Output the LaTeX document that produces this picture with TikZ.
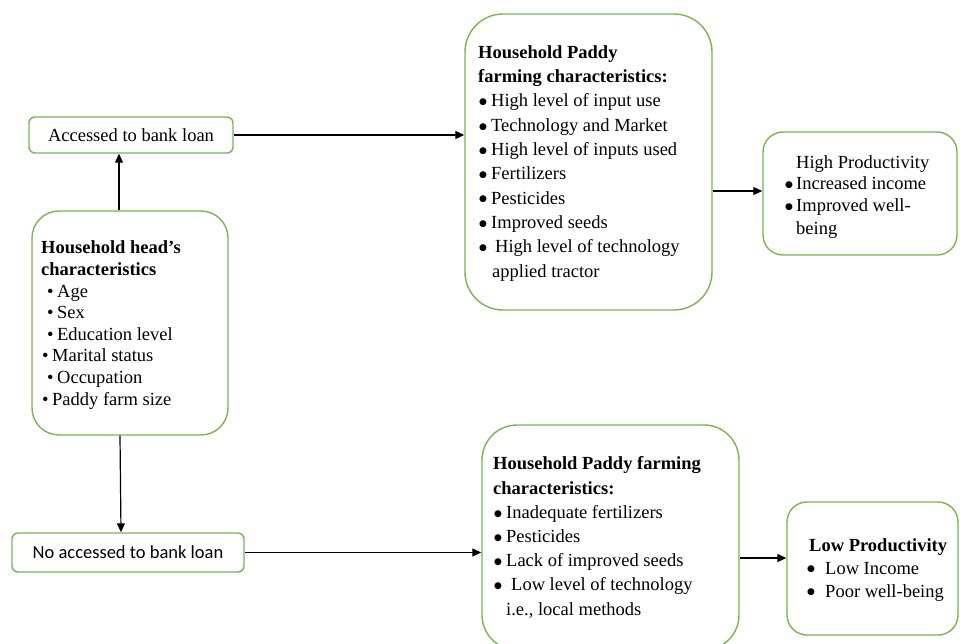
\documentclass[tikz,border=0pt]{standalone}
\usepackage{fontspec}
\setmainfont{Liberation Serif}
\newfontfamily\calib{Carlito}
\newfontfamily\dejavu{DejaVu Sans}
\usetikzlibrary{arrows.meta,calc}
\definecolor{boxgreen}{RGB}{122,180,84}
\newcommand\bul[1]{\makebox[#1][l]{•}}
\newcommand\bbul[1]{\makebox[#1][l]{\raisebox{2.2pt}{\dejavu\fontsize{9}{9}\selectfont ●}}}
\begin{document}
\begin{tikzpicture}[x=1pt,y=-1pt,
  gbox/.style={draw=boxgreen,line width=1.4pt,fill=white,inner sep=0pt,rectangle},
  txt/.style={anchor=base west,inner sep=0pt,align=left,text=black},
  arr/.style={draw=black,line width=1.2pt,-{Triangle[length=9pt,width=8pt]}},
  fnt/.style={font=\fontsize{18.5}{#1}\selectfont}]
\useasboundingbox (0,0) rectangle (960,644);
% boxes
\node[gbox,rounded corners=6pt,minimum width=204pt,minimum height=36pt,fnt=22] (acc) at (131,135) {Accessed to bank loan};
\node[gbox,rounded corners=27pt,minimum width=196pt,minimum height=224pt] (head) at (130,323) {};
\node[gbox,rounded corners=38pt,minimum width=247pt,minimum height=296pt] (tp) at (588.5,162) {};
\node[gbox,rounded corners=20pt,minimum width=194pt,minimum height=123pt] (hp) at (860,193.5) {};
\node[gbox,rounded corners=6pt,minimum width=232pt,minimum height=39pt,font=\calib\fontsize{18.5}{22}\selectfont] (noacc) at (128,552.5) {No accessed to bank loan};
\node[gbox,rounded corners=35pt,minimum width=257pt,minimum height=225pt] (bp) at (610.5,537.5) {};
\node[gbox,rounded corners=20pt,minimum width=171pt,minimum height=133pt] (lp) at (872.5,568.5) {};
% texts (anchored at the baseline of the last line)
\node[txt,fnt=21.6] (headtxt) at (41,405) {\textbf{Household head’s}\\
\textbf{characteristics}\\
\hspace*{6pt}\bul{10pt}Age\\
\hspace*{6pt}\bul{10pt}Sex\\
\hspace*{6pt}\bul{10pt}Education level\\
\hspace*{1pt}\bul{10pt}Marital status\\
\hspace*{6pt}\bul{10pt}Occupation\\
\hspace*{1pt}\bul{10pt}Paddy farm size};
\node[txt,fnt=24.3] (tptxt) at (478,277) {\textbf{Household Paddy}\\
\textbf{farming characteristics:}\\
\hspace*{1pt}\bbul{12pt}High level of input use\\
\hspace*{1pt}\bbul{12pt}Technology and Market\\
\hspace*{1pt}\bbul{12pt}High level of inputs used\\
\hspace*{1pt}\bbul{12pt}Fertilizers\\
\hspace*{1pt}\bbul{12pt}Pesticides\\
\hspace*{1pt}\bbul{12pt}Improved seeds\\
\hspace*{1pt}\bbul{12pt}\hspace*{4pt}High level of technology\\
\hspace*{14pt}applied tractor};
\node[txt,fnt=22] (hptxt) at (785,234) {\hspace*{11pt}High Productivity\\
\bbul{11pt}Increased income\\
\bbul{11pt}Improved well-\\
\hspace*{11pt}being};
\node[txt,fnt=24.2] (bptxt) at (493,615) {\textbf{Household Paddy farming}\\
\textbf{characteristics:}\\
\hspace*{1pt}\bbul{12pt}Inadequate fertilizers\\
\hspace*{1pt}\bbul{12pt}Pesticides\\
\hspace*{1pt}\bbul{12pt}Lack of improved seeds\\
\hspace*{1pt}\bbul{12pt}\hspace*{5pt}Low level of technology\\
\hspace*{13pt}i.e., local methods};
\node[txt,fnt=23] (lptxt) at (807,597) {\hspace*{2pt}\textbf{Low Productivity}\\
\bbul{18pt}Low Income\\
\bbul{18pt}Poor well-being};
% arrows
\draw[arr] ([xshift=-11pt]head.north) -- ([xshift=-12pt]acc.south);
\draw[arr] ([xshift=-10pt]head.south) -- ([xshift=-7pt]noacc.north);
\draw[arr] (acc.east) -- (acc.east -| tp.west);
\draw[arr] ([yshift=2.5pt]hp.west -| tp.east) -- ([yshift=2.5pt]hp.west);
\draw[arr] (noacc.east) -- (noacc.east -| bp.west);
\draw[arr] ([yshift=10.5pt]lp.west -| bp.east) -- ([yshift=10.5pt]lp.west);
\end{tikzpicture}
\end{document}
